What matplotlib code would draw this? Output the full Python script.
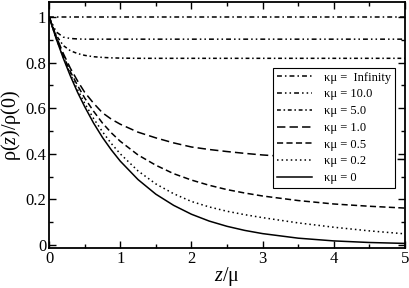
import numpy as np
import matplotlib
matplotlib.use("Agg")
import matplotlib.pyplot as plt
from matplotlib.ticker import MultipleLocator

plt.rcParams.update({
    "font.family": "Liberation Serif",
    "mathtext.fontset": "custom",
    "mathtext.rm": "Liberation Serif",
    "mathtext.it": "Liberation Serif:italic",
    "xtick.direction": "in",
    "ytick.direction": "in",
    "xtick.top": True,
    "ytick.right": True,
})

# z/mu sample points
z = [0, 0.1, 0.2, 0.3, 0.4, 0.5, 0.625, 0.75, 0.875, 1.0, 1.25, 1.5, 1.75,
     2.0, 2.25, 2.5, 2.75, 3.0, 3.5, 4.0, 4.5, 5.0]

rho_inf = [1.0] * len(z)
rho_10 = [1.0, 0.935, 0.912, 0.906, 0.904] + [0.903] * 17
rho_5 = [1.0, 0.92, 0.875, 0.852, 0.84, 0.832, 0.826, 0.823, 0.821, 0.820] + [0.819] * 12
rho_1 = [1.0, 0.915, 0.84, 0.775, 0.72, 0.67, 0.622, 0.58, 0.552, 0.53, 0.495,
         0.47, 0.448, 0.43, 0.419, 0.41, 0.402, 0.395, 0.385, 0.38, 0.377, 0.375]
rho_05 = [1.0, 0.91, 0.83, 0.76, 0.70, 0.645, 0.587, 0.535, 0.492, 0.455, 0.395,
          0.35, 0.313, 0.285, 0.262, 0.243, 0.228, 0.215, 0.195, 0.18, 0.17, 0.162]
rho_02 = [1.0, 0.907, 0.824, 0.749, 0.682, 0.622, 0.555, 0.497, 0.445, 0.40, 0.325,
          0.268, 0.225, 0.191, 0.167, 0.148, 0.133, 0.12, 0.097, 0.078, 0.062, 0.049]
rho_0 = [1.0, 0.905, 0.819, 0.741, 0.670, 0.607, 0.535, 0.472, 0.417, 0.368, 0.287,
         0.223, 0.174, 0.135, 0.105, 0.082, 0.064, 0.050, 0.030, 0.018, 0.011, 0.007]

labels = ["κμ =  Infinity", "κμ = 10.0", "κμ = 5.0", "κμ = 1.0",
          "κμ = 0.5", "κμ = 0.2", "κμ = 0"]
series = [rho_inf, rho_10, rho_5, rho_1, rho_05, rho_02, rho_0]
styles = [(0, (3.2, 2, 1, 2)),
          (0, (3.2, 2, 1, 2, 1, 2)),
          (0, (2.5, 1.8, 1, 1.8)),
          (0, (5.5, 2.7)),
          (0, (4, 2.2)),
          (0, (1, 2)),
          "-"]

fig = plt.figure(figsize=(4.09, 2.88), dpi=100)
ax = fig.add_axes([0.12, 0.139, 0.87, 0.854])

for vals, lab, ls in zip(series, labels, styles):
    ax.plot(z, vals, color="black", lw=1.1, linestyle=ls, label=lab)

ax.set_xlim(0, 5)
ax.set_ylim(-0.013, 1.066)
ax.set_xticks([0, 1, 2, 3, 4, 5])
ax.set_xticklabels(["0", "1", "2", "3", "4", "5"])
ax.set_yticks([0, 0.2, 0.4, 0.6, 0.8, 1.0])
ax.set_yticklabels(["0", "0.2", "0.4", "0.6", "0.8", "1"])
ax.xaxis.set_minor_locator(MultipleLocator(0.5))
ax.yaxis.set_minor_locator(MultipleLocator(0.1))
ax.tick_params(which="major", length=5, width=1, labelsize=12, pad=2)
ax.tick_params(which="minor", length=3, width=1)
for sp in ax.spines.values():
    sp.set_linewidth(1.3)

ax.set_xlabel(r"$z$/μ", fontsize=14.5, labelpad=-1.5)
ax.set_ylabel(r"ρ($z$)/ρ(0)", fontsize=14.5, labelpad=2)

leg = ax.legend(loc="upper right", bbox_to_anchor=(0.972, 0.732), borderaxespad=0,
                fontsize=9, frameon=True, fancybox=False, edgecolor="black",
                framealpha=1, labelspacing=0.38, handlelength=2.8,
                handletextpad=1.0, borderpad=0.3)
leg.get_frame().set_linewidth(0.8)

fig.savefig("out.png", dpi=100)
